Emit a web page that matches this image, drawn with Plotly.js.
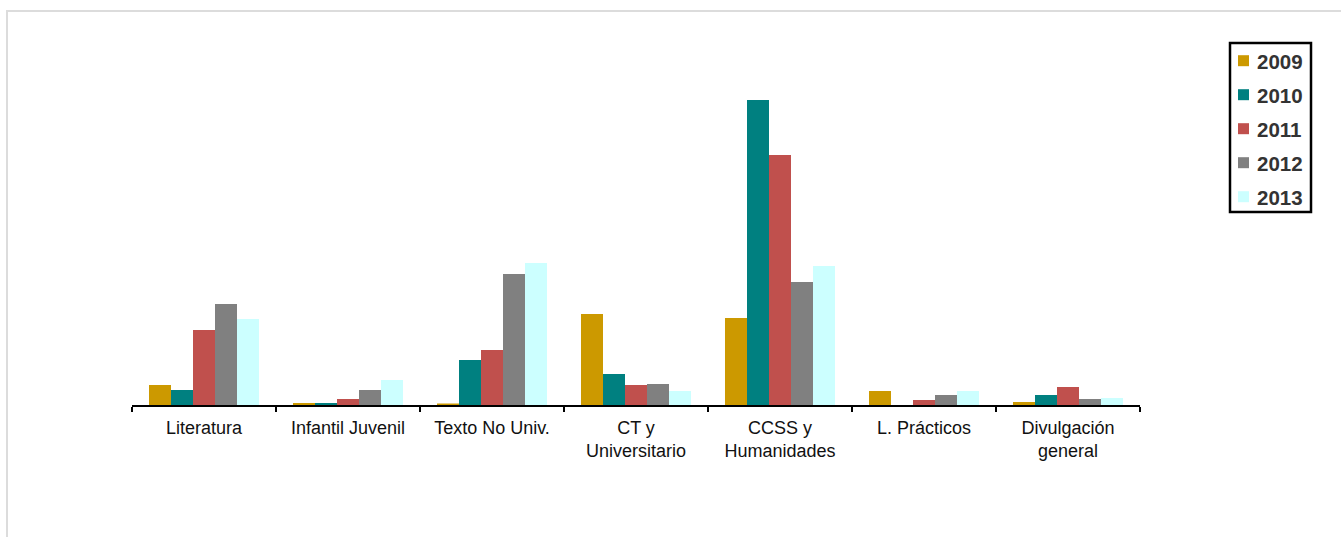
<!DOCTYPE html>
<html>
<head>
<meta charset="utf-8">
<script src="https://cdn.plot.ly/plotly-3.0.1.min.js"></script>
<style>
html,body{margin:0;padding:0;background:#fff;overflow:hidden;}
#chart{position:absolute;left:0;top:0;width:1341px;height:537px;}
#frame{position:absolute;left:6px;top:10px;width:2000px;height:2000px;border:2px solid #dcdcdc;pointer-events:none;}
</style>
</head>
<body>
<div id="chart"></div>
<div id="frame"></div>
<script>
const categories = ["Literatura", "Infantil Juvenil", "Texto No Univ.", "CT y<br>Universitario", "CCSS y<br>Humanidades", "L. Prácticos", "Divulgación<br>general"];
const seriesNames = ["2009", "2010", "2011", "2012", "2013"];
const v2009 = [20, 2, 1.5, 91, 87, 14, 3];
const v2010 = [15, 2, 45, 31, 305, 0, 10];
const v2011 = [75, 6, 55, 20, 250, 5, 18];
const v2012 = [101, 15, 131, 21, 123, 10, 6];
const v2013 = [86, 25, 142, 14, 139, 14, 7];
const colors = ["#CC9900", "#008080", "#C0504D", "#808080", "#CCFFFF"];

const allValues = [v2009, v2010, v2011, v2012, v2013];
const traces = allValues.map((vals, i) => ({
  type: "bar",
  name: seriesNames[i],
  x: categories,
  y: vals,
  marker: {color: colors[i], line: {width: 0}},
  hoverinfo: "x+y+name"
}));

// plot-area geometry (pixels) used to place the hand-drawn legend box
const M = {l: 132, r: 201, t: 40, b: 132};
const W = 1341, H = 537;
const pw = W - M.l - M.r, ph = H - M.t - M.b;
const px = x => (x - M.l) / pw;
const py = y => (H - M.b - y) / ph;

const legendTop = 60.7, legendStep = 34;
const shapes = [{
  type: "rect", xref: "paper", yref: "paper",
  x0: px(1230), x1: px(1311), y0: py(212), y1: py(43),
  line: {color: "#000", width: 2.5},
  fillcolor: "rgba(0,0,0,0)"
}];
const annotations = [];
seriesNames.forEach((name, i) => {
  const cy = legendTop + i * legendStep;
  shapes.push({
    type: "rect", xref: "paper", yref: "paper",
    x0: px(1238), x1: px(1249), y0: py(cy + 5.5), y1: py(cy - 5.5),
    line: {width: 0}, fillcolor: colors[i]
  });
  annotations.push({
    xref: "paper", yref: "paper",
    x: px(1255), y: py(cy + 1),
    xanchor: "left", yanchor: "middle",
    text: "<b>" + name + "</b>", showarrow: false,
    font: {size: 20.5, color: "#333", family: "Liberation Sans, Arial, sans-serif"}
  });
});

const layout = {
  width: W,
  height: H,
  margin: M,
  paper_bgcolor: "rgba(0,0,0,0)",
  plot_bgcolor: "rgba(0,0,0,0)",
  font: {family: "Liberation Sans, Arial, sans-serif", color: "#111"},
  barmode: "group",
  bargap: 0.236,
  bargroupgap: 0,
  showlegend: false,
  shapes: shapes,
  annotations: annotations,
  xaxis: {
    type: "category",
    showline: true, linecolor: "#000", linewidth: 2,
    ticks: "outside", tickson: "boundaries", ticklen: 5, tickwidth: 2, tickcolor: "#000",
    showgrid: false, zeroline: false,
    ticklabelstandoff: 5,
    tickfont: {size: 18, color: "#111"}
  },
  yaxis: {
    visible: false,
    range: [0, 365],
    showgrid: false, zeroline: false
  }
};

Plotly.newPlot("chart", traces, layout, {displayModeBar: false, staticPlot: true});
</script>
</body>
</html>
